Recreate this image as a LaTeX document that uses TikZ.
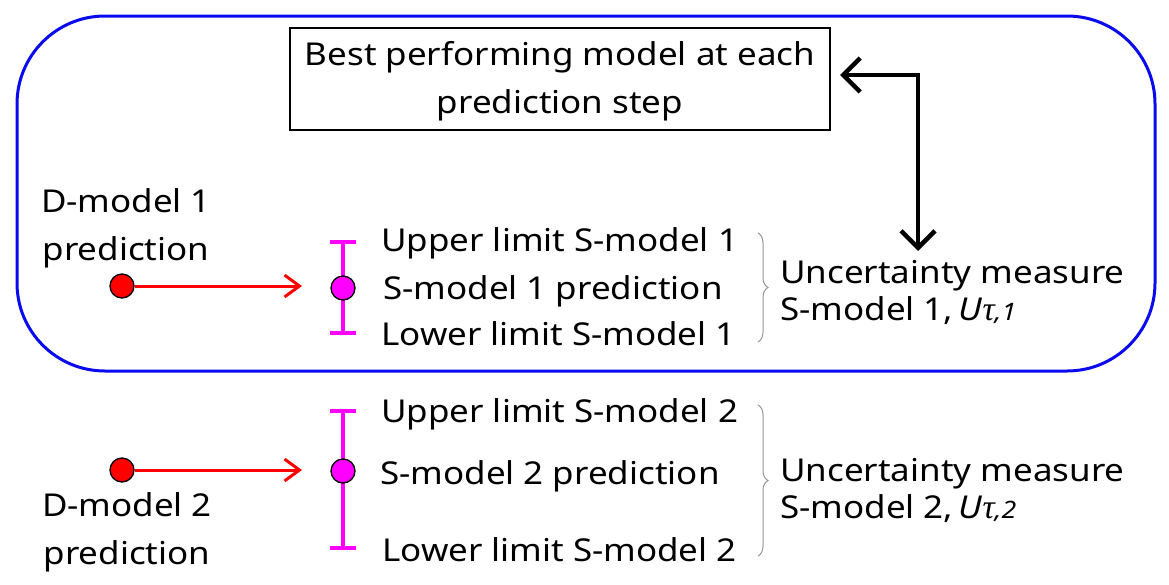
\documentclass[tikz,border=0pt]{standalone}
\usepackage{fontspec}
\setmainfont{Noto Sans}[FakeStretch=1.11]
\newfontfamily\taufont{Liberation Serif}
\usetikzlibrary{arrows.meta,decorations.pathreplacing}
\definecolor{mag}{RGB}{255,0,255}
\definecolor{rd}{RGB}{255,0,0}
\definecolor{bl}{RGB}{10,10,240}
\definecolor{brgray}{RGB}{150,150,150}
\begin{document}
\begin{tikzpicture}[x=1pt,y=-1pt,
  txt/.style={inner sep=0pt,font=\fontsize{31.5}{37}\selectfont},
  rdot/.style={circle,draw=black,fill=rd,minimum size=24pt,inner sep=0pt,line width=1.3pt},
  mdot/.style={circle,draw=black,fill=mag,minimum size=24pt,inner sep=0pt,line width=1.3pt},
  redarrow/.style={rd,line width=3pt,-{Straight Barb[length=15pt,width=22pt,line width=3pt]}},
  ebar/.style={mag,line width=4.5pt},
  brc/.style={brgray,line width=1pt,decorate,decoration={brace,amplitude=10pt}},
  blk/.style={line width=4.5pt,{Straight Barb[length=17pt,width=34pt,line width=4.5pt]}-{Straight Barb[length=17pt,width=34pt,line width=4.5pt]}}
]
\newcommand{\utau}[1]{\textit{U}{\taufont\itshape\fontsize{34}{30}\selectfont τ}{\fontsize{24}{30}\selectfont\textit{,#1}}}
\useasboundingbox (0,0) rectangle (1169,584);
\fill[white] (0,0) rectangle (1169,584);
% blue frame
\draw[bl,line width=3pt,rounded corners=88pt] (17,16) rectangle (1155,371);
% top box
\node[draw=black,line width=2pt,minimum width=540pt,minimum height=102pt,inner sep=0pt] (best) at (560,79) {};
\node[txt,anchor=base] (bestA) at (560,65) {Best performing model at each};
\node[txt,anchor=base] (bestB) at (560,113) {prediction step};
% group 1
\node[txt,anchor=base] (d1a) at (126,212) {D-model 1};
\node[txt,anchor=base] (d1b) at (126,260) {prediction};
\node[rdot] (r1) at (122,286) {};
\coordinate (r1end) at (302,286);
\draw[redarrow] (r1) -- (r1end);
\coordinate (b1t) at (343,242);
\coordinate (b1b) at (343,333);
\draw[ebar] (b1t) -- (b1b);
\draw[ebar] (330,242) -- (356,242);
\draw[ebar] (330,333) -- (356,333);
\node[mdot] (m1) at (343,288) {};
\node[txt,anchor=base west] (u1) at (381,251) {Upper limit S-model 1};
\node[txt,anchor=base west] (p1) at (383,299) {S-model 1 prediction};
\node[txt,anchor=base west] (l1) at (381,345) {Lower limit S-model 1};
\draw[brc] (758,233) -- (758,342);
\node[txt,anchor=base west] (um1) at (780,283) {Uncertainty measure};
\node[txt,anchor=base west] (sm1) at (780,320) {S-model 1,\,\utau{1}};
% black double arrow
\coordinate (corner) at (918,75);
\coordinate (downend) at (918,251);
\coordinate (leftend) at (840,75);
\draw[blk] (downend) -- (corner) -- (leftend);
% group 2
\node[txt,anchor=base] (d2a) at (127,516) {D-model 2};
\node[txt,anchor=base] (d2b) at (127,564) {prediction};
\node[rdot] (r2) at (122,470) {};
\coordinate (r2end) at (302,470);
\draw[redarrow] (r2) -- (r2end);
\draw[ebar] (343,411) -- (343,548);
\draw[ebar] (330,411) -- (356,411);
\draw[ebar] (330,548) -- (356,548);
\node[mdot] (m2) at (343,471) {};
\node[txt,anchor=base west] (u2) at (381,422) {Upper limit S-model 2};
\node[txt,anchor=base west] (p2) at (380,484) {S-model 2 prediction};
\node[txt,anchor=base west] (l2) at (382,561) {Lower limit S-model 2};
\draw[brc] (758,405) -- (758,556);
\node[txt,anchor=base west] (um2) at (780,481) {Uncertainty measure};
\node[txt,anchor=base west] (sm2) at (780,518) {S-model 2,\,\utau{2}};
\end{tikzpicture}
\end{document}
